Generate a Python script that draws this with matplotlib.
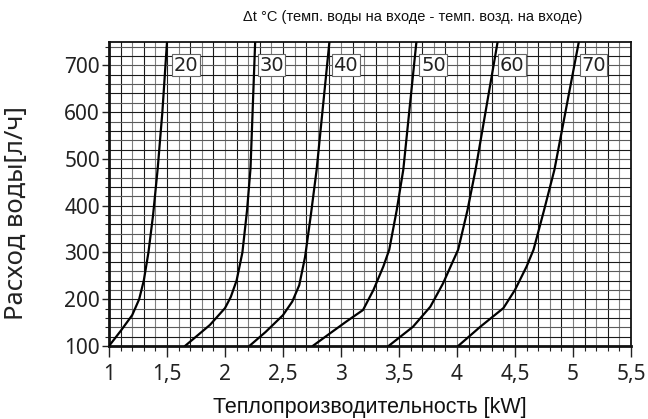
import matplotlib
matplotlib.use("Agg")
import matplotlib.pyplot as plt
import numpy as np
from matplotlib.ticker import MultipleLocator

# ---- data ----
x_ticks = [1, 1.5, 2, 2.5, 3, 3.5, 4, 4.5, 5, 5.5]
x_tick_labels = ["1", "1,5", "2", "2,5", "3", "3,5", "4", "4,5", "5", "5,5"]
y_ticks = [100, 200, 300, 400, 500, 600, 700]

dt_labels = ["20", "30", "40", "50", "60", "70"]
label_x = [1.555, 2.295, 2.935, 3.69, 4.37, 5.07]
label_y = 700

c20_x = [1.00, 1.10, 1.20, 1.26, 1.30, 1.34, 1.38, 1.42, 1.46, 1.50]
c20_y = [100, 132, 166, 200, 240, 300, 380, 480, 600, 750]
c30_x = [1.655, 1.784, 1.87, 2.00, 2.05, 2.10, 2.15, 2.19, 2.22, 2.26]
c30_y = [100, 127, 145, 181, 205, 240, 300, 390, 480, 750]
c40_x = [2.21, 2.35, 2.50, 2.58, 2.64, 2.69, 2.74, 2.79, 2.90]
c40_y = [100, 130, 166, 195, 230, 290, 380, 477, 750]
c50_x = [2.756, 2.905, 3.05, 3.19, 3.28, 3.365, 3.416, 3.48, 3.537, 3.65]
c50_y = [100, 127, 153, 177, 220, 270, 306, 390, 477, 750]
c60_x = [3.41, 3.62, 3.77, 3.88, 3.97, 4.01, 4.09, 4.16, 4.35]
c60_y = [100, 141, 184, 234, 284, 306, 390, 477, 750]
c70_x = [4.01, 4.20, 4.40, 4.50, 4.60, 4.66, 4.75, 4.84, 5.05]
c70_y = [100, 141, 181, 220, 270, 306, 390, 477, 750]

curves_x = [c20_x, c30_x, c40_x, c50_x, c60_x, c70_x]
curves_y = [c20_y, c30_y, c40_y, c50_y, c60_y, c70_y]

title = "\u0394t \u00b0C (темп. воды на входе - темп. возд. на входе)"
xlabel = "Теплопроизводительность [kW]"
ylabel = "Расход воды[л/ч]"

# ---- figure ----
fig = plt.figure(figsize=(6.48, 4.19), dpi=100)
ax = fig.add_axes([109/648, 1-346/419, (631-109)/648, (346-42)/419])
ax.set_xlim(1, 5.5)
ax.set_ylim(100, 750)

ax.xaxis.set_minor_locator(MultipleLocator(0.1))
ax.yaxis.set_minor_locator(MultipleLocator(20))
ax.set_xticks(x_ticks)
ax.set_xticklabels(x_tick_labels)
ax.set_yticks(y_ticks)

# grid drawn from the axis' own tick locations (alternating dark / grey lines)
xgrid = sorted(set(np.round(np.concatenate([ax.xaxis.get_minorticklocs(),
                                            ax.xaxis.get_majorticklocs()]), 6)))
ygrid = sorted(set(np.round(np.concatenate([ax.yaxis.get_minorticklocs(),
                                            ax.yaxis.get_majorticklocs()]), 6)))
for i, xv in enumerate(xgrid):
    col = "#1a1a1a" if i % 2 == 0 else "#808080"
    ax.axvline(xv, color=col, linewidth=0.8, zorder=1)
for i, yv in enumerate(ygrid):
    col = "#1a1a1a" if i % 2 == 0 else "#5a5a5a"
    ax.axhline(yv, color=col, linewidth=0.8, zorder=1)

tick_font = "Noto Sans"
for lab in ax.get_xticklabels() + ax.get_yticklabels():
    lab.set_fontfamily(tick_font)
    lab.set_fontsize(15)
    lab.set_color("#222222")

ax.tick_params(axis="x", which="major", length=8, width=1.0, pad=5, color="#222222")
ax.tick_params(axis="x", which="minor", length=3.5, width=0.8, color="#222222")
ax.tick_params(axis="y", which="major", length=5, width=1.0, pad=1.5, color="#222222")
ax.tick_params(axis="y", which="minor", length=3, width=0.8, color="#222222")

for s in ["left", "bottom"]:
    ax.spines[s].set_linewidth(2.0)
    ax.spines[s].set_color("#111111")
for s in ["top", "right"]:
    ax.spines[s].set_linewidth(1.3)
    ax.spines[s].set_color("#111111")

for cx, cy in zip(curves_x, curves_y):
    ax.plot(cx, cy, color="black", linewidth=1.6, solid_capstyle="round",
            solid_joinstyle="round", zorder=3, clip_on=True)

for t, lx in zip(dt_labels, label_x):
    ax.text(lx, label_y, t, ha="left", va="center", fontsize=14, family="DejaVu Sans",
            color="#222222", zorder=4,
            bbox=dict(boxstyle="square,pad=0.08", facecolor="white", edgecolor="#666666", linewidth=0.8))

fig.text(413/648, 1-17/419, title, ha="center", va="center", fontsize=10.5,
         family="Liberation Sans", color="#111111")
fig.text(370/648, 1-407/419, xlabel, ha="center", va="center", fontsize=15.5,
         family="Liberation Sans", color="#111111")
fig.text(17/648, 1-213/419, ylabel, ha="center", va="center", fontsize=18.5, rotation=90,
         family="Noto Sans", color="#222222")

fig.savefig("out.png", dpi=100)
